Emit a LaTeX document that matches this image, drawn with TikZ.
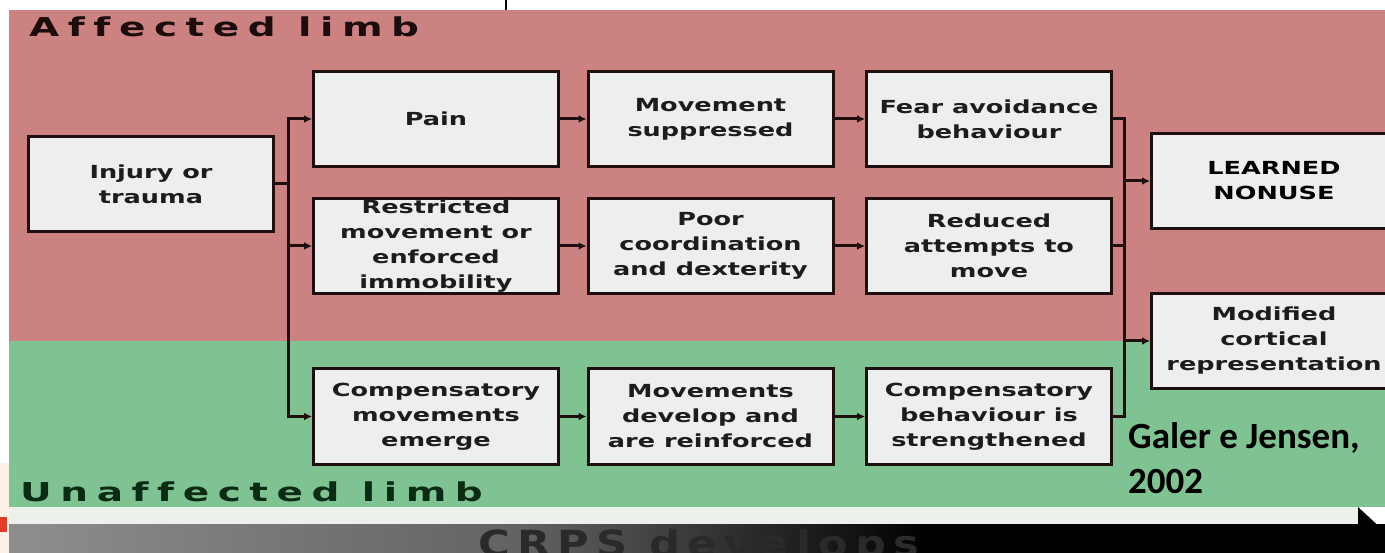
\documentclass[tikz,border=0pt]{standalone}
\usepackage{fontspec}
\usetikzlibrary{arrows.meta}
\newfontfamily\boxfont[FakeStretch=1.42]{DejaVu Sans Bold}
\newfontfamily\labfont[FakeStretch=1.5,LetterSpace=33,Ligatures=NoCommon]{DejaVu Sans Bold}
\newfontfamily\crpsfont[FakeStretch=1.2,LetterSpace=20,Ligatures=NoCommon]{DejaVu Sans Bold}
\newfontfamily\galfont{Carlito}
\definecolor{pinkbg}{HTML}{CD8282}
\definecolor{greenbg}{HTML}{80C393}
\definecolor{boxfill}{HTML}{EDEFEF}
\definecolor{boxline}{HTML}{1E0E0E}
\definecolor{boxtext}{HTML}{1C1C1C}
\definecolor{stripc}{HTML}{ECF1EC}
\definecolor{barleft}{HTML}{8E8E8E}
\definecolor{barmid}{HTML}{626262}
\definecolor{creamc}{HTML}{FDF1E6}
\definecolor{redmark}{HTML}{E23C2A}
\definecolor{afftext}{HTML}{1C0C0C}
\definecolor{unafftext}{HTML}{0B2B14}
\definecolor{crpstext}{HTML}{2A2A2A}
\tikzset{
  stepbox/.style={draw=boxline, line width=3pt, fill=boxfill,
    minimum width=245pt, minimum height=95pt, inner sep=0pt,
    align=center, text=boxtext, font=\boxfont\fontsize{18}{25}\selectfont},
  conn/.style={draw=boxline, line width=3pt},
  arr/.style={conn, -{Latex[length=8pt,width=8pt]}},
  lablimb/.style={anchor=base west, inner sep=0pt, font=\labfont\fontsize{26}{30}\selectfont}
}
\begin{document}
\begin{tikzpicture}[x=1pt,y=-1pt]
\clip (0,0) rectangle (1385,553);
% backgrounds
\fill[white] (0,0) rectangle (1385,553);
\fill[creamc] (0,463) rectangle (9,553);
\fill[redmark] (0,517) rectangle (7,532);
\fill[pinkbg] (9,10) rectangle (1385,341);
\fill[greenbg] (9,341) rectangle (1385,507);
\fill[stripc] (9,507) rectangle (1360,524);
\shade[left color=barleft, right color=barmid] (9,524) rectangle (520,553);
\shade[left color=barmid, right color=black] (520,524) rectangle (930,553);
\fill[black] (930,524) rectangle (1385,553);
\fill[black] (1358,507) -- (1385,532) -- (1385,553) -- (1358,553) -- cycle;
\draw[black, line width=2pt] (506,0) -- (506,10);
% labels
\node[lablimb, text=afftext] (aff) at (29,37) {Affected limb};
\node[lablimb, text=unafftext] (unaff) at (20,501) {Unaffected limb};
\node[anchor=base west, inner sep=0pt, text=crpstext, font=\crpsfont\fontsize{36}{40}\selectfont] (crps) at (478,556) {CRPS develops};
% boxes
\node[stepbox] (inj) at (151,184) {Injury or\\trauma};
\node[stepbox] (pain) at (436,119) {Pain};
\node[stepbox] (restr) at (436,246) {Restricted\\movement or\\enforced\\immobility};
\node[stepbox] (comp) at (436,416.5) {Compensatory\\movements\\emerge};
\node[stepbox] (mov) at (710.5,119) {Movement\\suppressed};
\node[stepbox] (poor) at (710.5,246) {Poor\\coordination\\and dexterity};
\node[stepbox] (dev) at (710.5,416.5) {Movements\\develop and\\are reinforced};
\node[stepbox] (fear) at (989,119) {Fear avoidance\\behaviour};
\node[stepbox] (red) at (989,246) {Reduced\\attempts to\\move};
\node[stepbox] (beh) at (989,416.5) {Compensatory\\behaviour is\\strengthened};
\node[stepbox, text=black] (learn) at (1274,181) {LEARNED\\NONUSE};
\node[stepbox] (mod) at (1274,341) {Modified\\cortical\\representation};
% connectors
\coordinate (L) at (288,0);
\coordinate (R) at (1124,0);
\draw[conn] (inj.east) -- (inj.east -| L);
\draw[arr] (inj.east -| L) |- (pain.west);
\draw[arr] (inj.east -| L) |- (restr.west);
\draw[arr] (inj.east -| L) |- (comp.west);
\draw[arr] (pain) -- (mov);
\draw[arr] (mov) -- (fear);
\draw[arr] (restr) -- (poor);
\draw[arr] (poor) -- (red);
\draw[arr] (comp) -- (dev);
\draw[arr] (dev) -- (beh);
\draw[conn] (fear.east) -| (R |- beh.east) -- (beh.east);
\draw[conn] (red.east) -- (red.east -| R);
\draw[arr] (R |- learn.west) -- (learn.west);
\draw[arr] (R |- mod.west) -- (mod.west);
% citation
\node[anchor=base west, inner sep=0pt, align=left, text=black, font=\galfont\bfseries\fontsize{37}{45}\selectfont] (gal) at (1128,493) {Galer e Jensen,\\2002};
\end{tikzpicture}
\end{document}
